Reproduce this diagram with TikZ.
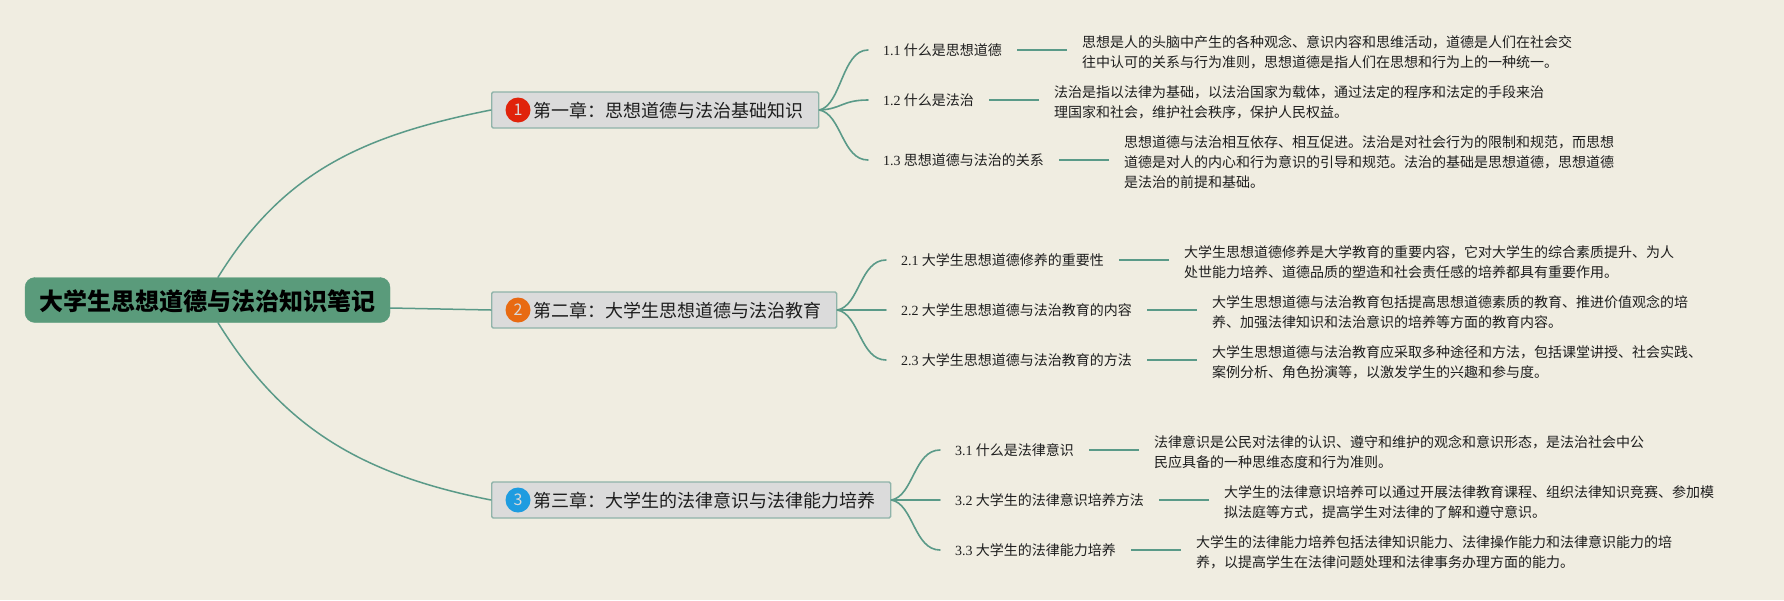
\documentclass[tikz,border=0pt]{standalone}
\usepackage{fontspec}
\setmainfont{Noto Sans CJK SC}
\newfontfamily\numf{Liberation Serif}
\usetikzlibrary{calc}
\definecolor{bgc}{HTML}{F0EDE1}
\definecolor{linec}{HTML}{5A9A88}
\definecolor{rootc}{HTML}{5A9B7B}
\definecolor{chapf}{HTML}{DBDBDB}
\definecolor{chapb}{HTML}{8FB3A9}
\definecolor{txt}{HTML}{1E1E1E}
\definecolor{ired}{HTML}{E0230B}
\definecolor{iorg}{HTML}{E86A12}
\definecolor{iblu}{HTML}{1E9CE0}
\tikzset{
 rootbox/.style={fill=rootc,draw=rootc,rounded corners=10pt,inner sep=0pt,minimum width=365pt,minimum height=45pt,text height=24pt,text depth=4pt,font=\fontsize{24}{28}\selectfont\bfseries,text=black},
 chapbox/.style={fill=chapf,draw=chapb,line width=1.4pt,rounded corners=1.5pt,anchor=west,inner xsep=15.5pt,inner ysep=0pt,minimum height=36pt,text height=17pt,text depth=3pt,font=\fontsize{18}{22}\selectfont,text=txt},
 icon/.style={circle,inner sep=0pt,minimum size=25pt,text=white!85!black,font=\fontsize{16}{18}\selectfont},
 lab/.style={anchor=west,inner xsep=15pt,inner ysep=0pt,text height=14pt,text depth=3.1pt,font=\fontsize{14}{16}\selectfont,text=txt},
 det/.style={anchor=west,inner xsep=15pt,inner ysep=0pt,align=left,font=\fontsize{14}{20}\selectfont,text=txt},
 trunk/.style={draw=linec,line width=1.5pt,line cap=round},
 branch/.style={draw=linec,line width=1.6pt,line cap=round},
 stub/.style={draw=linec,line width=2.2pt}
}
\newcommand{\fan}[2]{% chapter, label
 \draw[branch] (#1.east) .. controls ($(#1.east)!0.08!(#1.east |- #2.west)+(22,0)$) and ($(#2.west)+(-26,0)$) .. (#2.west);}
\begin{document}
\begin{tikzpicture}[x=1pt,y=-1pt]
\fill[bgc] (0,0) rectangle (1784,600);
\useasboundingbox (0,0) rectangle (1784,600);
\node[rootbox] (root) at (207.5,300) {大学生思想道德与法治知识笔记};
\node[chapbox] (c1) at (491,110) {\hspace*{26pt}第一章：思想道德与法治基础知识};
\node[chapbox] (c2) at (491,310) {\hspace*{26pt}第二章：大学生思想道德与法治教育};
\node[chapbox] (c3) at (491,500) {\hspace*{26pt}第三章：大学生的法律意识与法律能力培养};
\node[icon,fill=ired] (i1) at (518,110) {1};
\node[icon,fill=iorg] (i2) at (518,310) {2};
\node[icon,fill=iblu] (i3) at (518,500) {3};
\draw[trunk] ([xshift=10.5pt]root.north) .. controls (282,174) and (359,136) .. (c1.west);
\draw[trunk] ([yshift=-8pt]root.east) -- (c2.west);
\draw[trunk] ([xshift=10.5pt]root.south) .. controls (282,426) and (359,474) .. (c3.west);
% chapter 1
\node[lab] (l11) at (868,50) {{\numf 1.1} 什么是思想道德};
\node[lab] (l12) at (868,100) {{\numf 1.2} 什么是法治};
\node[lab] (l13) at (868,160) {{\numf 1.3} 思想道德与法治的关系};
\node[det] (d11) at (1067,52) {思想是人的头脑中产生的各种观念、意识内容和思维活动，道德是人们在社会交\\往中认可的关系与行为准则，思想道德是指人们在思想和行为上的一种统一。};
\node[det] (d12) at (1039,102) {法治是指以法律为基础，以法治国家为载体，通过法定的程序和法定的手段来治\\理国家和社会，维护社会秩序，保护人民权益。};
\node[det] (d13) at (1109,162) {思想道德与法治相互依存、相互促进。法治是对社会行为的限制和规范，而思想\\道德是对人的内心和行为意识的引导和规范。法治的基础是思想道德，思想道德\\是法治的前提和基础。};
% chapter 2
\node[lab] (l21) at (886,260) {{\numf 2.1} 大学生思想道德修养的重要性};
\node[lab] (l22) at (886,310) {{\numf 2.2} 大学生思想道德与法治教育的内容};
\node[lab] (l23) at (886,360) {{\numf 2.3} 大学生思想道德与法治教育的方法};
\node[det] (d21) at (1169,262) {大学生思想道德修养是大学教育的重要内容，它对大学生的综合素质提升、为人\\处世能力培养、道德品质的塑造和社会责任感的培养都具有重要作用。};
\node[det] (d22) at (1197,312) {大学生思想道德与法治教育包括提高思想道德素质的教育、推进价值观念的培\\养、加强法律知识和法治意识的培养等方面的教育内容。};
\node[det] (d23) at (1197,362) {大学生思想道德与法治教育应采取多种途径和方法，包括课堂讲授、社会实践、\\案例分析、角色扮演等，以激发学生的兴趣和参与度。};
% chapter 3
\node[lab] (l31) at (940,450) {{\numf 3.1} 什么是法律意识};
\node[lab] (l32) at (940,500) {{\numf 3.2} 大学生的法律意识培养方法};
\node[lab] (l33) at (940,550) {{\numf 3.3} 大学生的法律能力培养};
\node[det] (d31) at (1139,452) {法律意识是公民对法律的认识、遵守和维护的观念和意识形态，是法治社会中公\\民应具备的一种思维态度和行为准则。};
\node[det] (d32) at (1209,502) {大学生的法律意识培养可以通过开展法律教育课程、组织法律知识竞赛、参加模\\拟法庭等方式，提高学生对法律的了解和遵守意识。};
\node[det] (d33) at (1181,552) {大学生的法律能力培养包括法律知识能力、法律操作能力和法律意识能力的培\\养，以提高学生在法律问题处理和法律事务办理方面的能力。};
\foreach \c/\a/\b/\d in {c1/l11/l12/l13,c2/l21/l22/l23,c3/l31/l32/l33}{
 \fan{\c}{\a}\fan{\c}{\b}\fan{\c}{\d}
}
\foreach \i in {11,12,13,21,22,23,31,32,33}{
 \draw[stub] (l\i.east) -- (d\i.west |- l\i.east);
}
\end{tikzpicture}
\end{document}
